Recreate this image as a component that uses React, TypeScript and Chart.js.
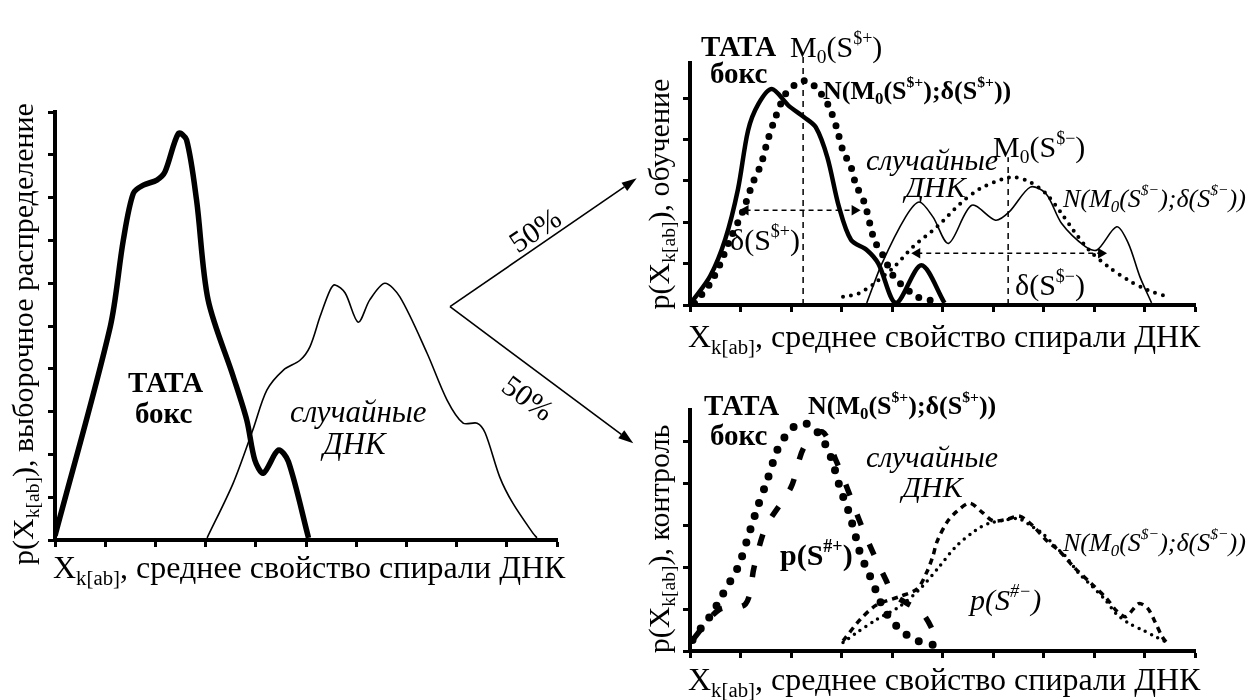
import React, { useEffect, useRef } from 'react';
import { Chart, registerables } from 'chart.js';
Chart.register(...registerables);

type P = [number, number];

// ---------- Left panel: sample distribution ----------
const leftTata: P[] = [
  [0, 0.1], [1.1, 4.98], [1.36, 7.0], [1.56, 8.1], [1.76, 8.29], [2.03, 8.41], [2.19, 8.6],
  [2.46, 9.5], [2.62, 9.35], [2.82, 7.94], [3.05, 5.61], [3.55, 3.82], [3.82, 2.8], [3.98, 1.87],
  [4.15, 1.56], [4.45, 2.1], [4.65, 1.83], [5.05, 0.05],
];
const leftRandom: P[] = [
  [3.03, 0.05], [3.55, 1.33], [3.94, 2.57], [4.22, 3.5], [4.55, 3.97], [4.88, 4.2], [5.08, 4.52],
  [5.28, 5.22], [5.48, 5.84], [5.58, 5.96], [5.78, 5.77], [6.04, 5.09], [6.27, 5.61], [6.57, 6.0],
  [6.87, 5.68], [7.41, 4.37], [7.81, 3.27], [8.13, 2.73], [8.41, 2.73], [8.57, 2.5], [8.86, 1.47],
  [9.12, 0.86], [9.52, 0.16], [9.6, 0.05],
];

// ---------- Upper right: training ----------
const trainTata: P[] = [
  [0.02, 0.05], [0.4, 0.7], [0.7, 1.6], [0.95, 2.8], [1.15, 4.22], [1.35, 4.85], [1.62, 5.22],
  [1.95, 4.82], [2.26, 4.54], [2.49, 4.3], [2.72, 3.57], [2.95, 2.37], [3.19, 1.57], [3.5, 1.33],
  [3.73, 1.0], [4.08, 0.05], [4.58, 0.96], [5.04, 0.05],
];
const trainRandom: P[] = [
  [3.5, 0.05], [3.8, 1.0], [4.27, 2.13], [4.54, 2.49], [4.81, 2.13], [5.12, 1.49], [5.58, 2.41],
  [6.05, 2.05], [6.32, 2.25], [6.74, 2.85], [7.05, 2.69], [7.36, 1.97], [7.83, 1.41], [8.06, 1.33],
  [8.45, 1.89], [8.68, 1.49], [8.91, 0.68], [9.14, 0.05],
];
const trainNormPlus: P[] = [
  [0.09, 0.04], [0.4, 0.52], [0.6, 1.0], [0.8, 1.61], [1.04, 2.25], [1.25, 2.97], [1.41, 3.41],
  [1.52, 3.9], [1.67, 4.46], [1.89, 5.1], [2.1, 5.34], [2.32, 5.42], [2.55, 5.18], [2.75, 4.8],
  [2.9, 4.3], [3.03, 3.73], [3.19, 3.33], [3.28, 2.93], [3.46, 2.45], [3.65, 1.57], [3.84, 1.16],
  [4.04, 0.68], [4.5, 0.2], [4.89, 0.08],
];
const trainNormMinus: P[] = [
  [3.03, 0.2], [3.34, 0.28], [3.65, 0.52], [4.04, 0.92], [4.42, 1.41], [4.89, 1.89], [5.35, 2.45],
  [5.74, 2.81], [6.2, 3.05], [6.43, 3.09], [6.74, 2.97], [7.05, 2.69], [7.36, 2.21], [7.59, 1.81],
  [7.9, 1.33], [8.29, 0.92], [8.68, 0.6], [9.06, 0.36], [9.45, 0.2],
];
const trainModePlus: P[] = [[2.24, 0], [2.24, 6.05]];
const trainModeMinus: P[] = [[6.3, 0], [6.3, 3.57]];
const trainDeltaPlus: P[] = [[1.1, 2.29], [3.26, 2.29]];
const trainDeltaMinus: P[] = [[4.5, 1.25], [8.14, 1.25]];

// ---------- Lower right: control ----------
const ctrlNormPlus: P[] = [
  [0.05, 0.26], [0.24, 0.58], [0.44, 0.9], [0.64, 1.33], [0.81, 1.69], [0.97, 2.05], [1.13, 2.64],
  [1.33, 3.4], [1.53, 4.07], [1.73, 4.79], [1.9, 5.14], [2.06, 5.34], [2.29, 5.42], [2.5, 5.25],
  [2.69, 4.9], [2.82, 4.51], [2.98, 3.85], [3.12, 3.4], [3.21, 3.04], [3.31, 2.6], [3.38, 2.29],
  [3.51, 1.93], [3.64, 1.57], [3.74, 1.25], [3.91, 0.86], [4.17, 0.5], [4.47, 0.26], [4.83, 0.14],
];
const ctrlPPlus: P[] = [
  [0.05, 0.26], [0.57, 0.98], [1.1, 1.12], [1.27, 2.0], [1.5, 2.95], [2.0, 3.9], [2.26, 4.86],
  [2.62, 5.22], [2.89, 4.54], [3.09, 3.95], [3.35, 3.12], [3.58, 2.46], [3.88, 1.69], [4.04, 1.33],
  [4.6, 0.9], [4.93, 0.19],
];
const ctrlNormMinus: P[] = [
  [3.03, 0.2], [3.28, 0.42], [3.68, 0.74], [4.14, 1.05], [4.53, 1.45], [4.93, 2.0], [5.26, 2.48],
  [5.66, 2.88], [5.92, 3.04], [6.25, 3.12], [6.51, 3.15], [6.78, 2.96], [6.98, 2.8], [7.24, 2.48],
  [7.44, 2.25], [7.7, 1.85], [7.97, 1.53], [8.23, 1.21], [8.43, 0.9], [8.69, 0.66], [8.96, 0.5],
  [9.22, 0.34], [9.42, 0.22],
];
const ctrlPMinus: P[] = [
  [3.03, 0.24], [3.37, 0.75], [3.7, 1.1], [4.16, 1.3], [4.5, 1.48], [4.69, 1.88], [4.81, 2.26],
  [4.89, 2.6], [5.09, 3.07], [5.29, 3.33], [5.54, 3.52], [5.78, 3.31], [6.0, 3.1], [6.28, 3.14],
  [6.53, 3.21], [6.79, 2.98], [7.07, 2.62], [7.3, 2.4], [7.6, 2.0], [7.95, 1.6], [8.25, 1.25],
  [8.45, 0.95], [8.63, 0.82], [8.89, 1.13], [9.06, 1.02], [9.19, 0.74], [9.35, 0.34], [9.45, 0.18],
];

const serif = '"Liberation Serif", "Times New Roman", "DejaVu Serif", serif';

const line = (pts: P[], o: any = {}) => ({
  data: pts.map(([x, y]) => ({ x, y })),
  borderColor: '#000',
  backgroundColor: '#000',
  borderWidth: 2,
  pointRadius: 0,
  pointHoverRadius: 0,
  tension: 0.3,
  fill: false,
  ...o,
});

const arrow = (pts: P[]) =>
  line(pts, {
    borderWidth: 1.5,
    borderDash: [5, 4],
    tension: 0,
    pointStyle: 'triangle',
    pointRadius: 6,
    pointBorderWidth: 0,
    pointBackgroundColor: '#000',
    pointRotation: (c: any) => (c.dataIndex === 0 ? -90 : 90),
  });

const axis = (max: number) => ({
  type: 'linear',
  min: 0,
  max,
  ticks: { display: false, stepSize: 1, includeBounds: false },
  grid: {
    display: true,
    drawOnChartArea: false,
    drawTicks: true,
    tickLength: 7,
    tickWidth: 3,
    tickColor: '#000',
  },
  border: { display: true, color: '#000', width: 4 },
  title: { display: false },
});

function LineChart(props: {
  left: number; top: number; width: number; height: number;
  pad: any; xMax: number; yMax: number; datasets: any[];
}) {
  const ref = useRef<HTMLCanvasElement>(null);
  useEffect(() => {
    const chart = new Chart(ref.current as HTMLCanvasElement, {
      type: 'line',
      data: { datasets: props.datasets },
      options: {
        animation: false,
        responsive: false,
        maintainAspectRatio: false,
        devicePixelRatio: 1,
        layout: { padding: props.pad },
        plugins: { legend: { display: false }, tooltip: { enabled: false } },
        scales: { x: axis(props.xMax), y: axis(props.yMax) } as any,
      } as any,
    });
    return () => chart.destroy();
  }, []);
  return (
    <canvas
      ref={ref}
      width={props.width}
      height={props.height}
      style={{ position: 'absolute', left: props.left, top: props.top, width: props.width, height: props.height }}
    />
  );
}

const Sub = ({ children }: any) => (
  <span style={{ fontSize: '0.65em', position: 'relative', top: '0.32em' }}>{children}</span>
);
const Sup = ({ children }: any) => (
  <span style={{ fontSize: '0.6em', position: 'relative', top: '-0.75em' }}>{children}</span>
);

function T(props: { x: number; y: number; size: number; bold?: boolean; italic?: boolean; children: any }) {
  return (
    <div
      style={{
        position: 'absolute',
        left: props.x,
        top: props.y,
        fontSize: props.size,
        lineHeight: 1,
        fontFamily: serif,
        fontWeight: props.bold ? 'bold' : 'normal',
        fontStyle: props.italic ? 'italic' : 'normal',
        whiteSpace: 'nowrap',
        color: '#000',
      }}
    >
      {props.children}
    </div>
  );
}

function R(props: { cx: number; cy: number; size: number; angle: number; children: any }) {
  return (
    <div
      style={{
        position: 'absolute',
        left: props.cx - 300,
        top: props.cy - props.size / 2,
        width: 600,
        height: props.size,
        fontSize: props.size,
        lineHeight: 1,
        fontFamily: serif,
        textAlign: 'center',
        whiteSpace: 'nowrap',
        transform: `rotate(${props.angle}deg)`,
        transformOrigin: '50% 50%',
        color: '#000',
      }}
    >
      {props.children}
    </div>
  );
}

const XTitle = () => (
  <>
    X<Sub>k[ab]</Sub>, среднее свойство спирали ДНК
  </>
);

function Arrow({ x1, y1, x2, y2 }: { x1: number; y1: number; x2: number; y2: number }) {
  const a = Math.atan2(y2 - y1, x2 - x1);
  const L = 15, W = 5;
  const bx = x2 - L * Math.cos(a), by = y2 - L * Math.sin(a);
  const px = -Math.sin(a) * W, py = Math.cos(a) * W;
  return (
    <g>
      <line x1={x1} y1={y1} x2={bx} y2={by} stroke="#000" strokeWidth={1.6} />
      <polygon points={`${x2},${y2} ${bx + px},${by + py} ${bx - px},${by - py}`} fill="#000" />
    </g>
  );
}

export default function App() {
  const leftSets = [
    line(leftRandom, { borderWidth: 1.6 }),
    line(leftTata, { borderWidth: 5.5 }),
  ];
  const trainSets = [
    line(trainRandom, { borderWidth: 1.6 }),
    line(trainNormMinus, { borderWidth: 4, borderDash: [0, 8], borderCapStyle: 'round' }),
    line(trainNormPlus, { borderWidth: 7, borderDash: [0, 11.5], borderCapStyle: 'round' }),
    line(trainTata, { borderWidth: 4.5 }),
    line(trainModePlus, { borderWidth: 1.5, borderDash: [6, 5], tension: 0, clip: false }),
    line(trainModeMinus, { borderWidth: 1.5, borderDash: [6, 5], tension: 0, clip: false }),
    arrow(trainDeltaPlus),
    arrow(trainDeltaMinus),
  ];
  const ctrlSets = [
    line(ctrlNormMinus, { borderWidth: 3.5, borderDash: [0, 7], borderCapStyle: 'round' }),
    line(ctrlPMinus, { borderWidth: 3.5, borderDash: [6, 5] }),
    line(ctrlNormPlus, { borderWidth: 8, borderDash: [0, 14], borderCapStyle: 'round' }),
    line(ctrlPPlus, { borderWidth: 5.5, borderDash: [12, 20] }),
  ];

  return (
    <div style={{ position: 'absolute', left: 0, top: 0, width: 1249, height: 700, background: '#fff', overflow: 'hidden' }}>
      <LineChart left={48} top={100} width={515} height={447} pad={{ top: 12, right: 6, left: 0, bottom: 0 }} xMax={10} yMax={10} datasets={leftSets} />
      <LineChart left={683} top={20} width={518} height={292} pad={{ top: 43, right: 6, left: 0, bottom: 0 }} xMax={10} yMax={5.85} datasets={trainSets} />
      <LineChart left={683} top={398} width={518} height={260} pad={{ top: 12, right: 6, left: 0, bottom: 0 }} xMax={10} yMax={5.74} datasets={ctrlSets} />

      <svg width={1249} height={700} style={{ position: 'absolute', left: 0, top: 0, pointerEvents: 'none' }}>
        <Arrow x1={450} y1={306.7} x2={636.7} y2={178.3} />
        <Arrow x1={450} y1={306.7} x2={633.3} y2={443.3} />
      </svg>

      {/* Left panel texts */}
      <T x={128} y={368} size={29} bold>ТАТА</T>
      <T x={135} y={399} size={29} bold>бокс</T>
      <T x={290} y={396} size={31} italic>случайные</T>
      <T x={323} y={428} size={31} italic>ДНК</T>
      <T x={53} y={551} size={32}><XTitle /></T>
      <R cx={22.5} cy={333.5} size={30} angle={-90}>p(X<Sub>k[ab]</Sub>), выборочное распределение</R>

      {/* split arrows */}
      <R cx={535} cy={230} size={30} angle={-34}>50%</R>
      <R cx={528} cy={398} size={30} angle={36}>50%</R>

      {/* Upper right texts */}
      <T x={701} y={32} size={29} bold>ТАТА</T>
      <T x={710} y={59} size={29} bold>бокс</T>
      <T x={790} y={32} size={30}>M<Sub>0</Sub>(S<Sup>$+</Sup>)</T>
      <T x={823} y={78} size={26} bold>N(M<Sub>0</Sub>(S<Sup>$+</Sup>);δ(S<Sup>$+</Sup>))</T>
      <T x={866} y={145} size={30} italic>случайные</T>
      <T x={905} y={172} size={30} italic>ДНК</T>
      <T x={993} y={132} size={30}>M<Sub>0</Sub>(S<Sup>$−</Sup>)</T>
      <T x={1063} y={186} size={26} italic>N(M<Sub>0</Sub>(S<Sup>$−</Sup>);δ(S<Sup>$−</Sup>))</T>
      <T x={730} y={225} size={30}>δ(S<Sup>$+</Sup>)</T>
      <T x={1015} y={270} size={30}>δ(S<Sup>$−</Sup>)</T>
      <T x={688} y={320} size={32}><XTitle /></T>
      <R cx={658.5} cy={193.5} size={30} angle={-90}>p(X<Sub>k[ab]</Sub>), обучение</R>

      {/* Lower right texts */}
      <T x={704} y={391} size={29} bold>ТАТА</T>
      <T x={710} y={421} size={29} bold>бокс</T>
      <T x={808} y={393} size={26} bold>N(M<Sub>0</Sub>(S<Sup>$+</Sup>);δ(S<Sup>$+</Sup>))</T>
      <T x={866} y={442} size={30} italic>случайные</T>
      <T x={902} y={472} size={30} italic>ДНК</T>
      <T x={780} y={540} size={30} bold>p(S<Sup>#+</Sup>)</T>
      <T x={970} y={585} size={30} italic>p(S<Sup>#−</Sup>)</T>
      <T x={1063} y={530} size={26} italic>N(M<Sub>0</Sub>(S<Sup>$−</Sup>);δ(S<Sup>$−</Sup>))</T>
      <T x={688} y={663} size={32}><XTitle /></T>
      <R cx={658.5} cy={538.5} size={30} angle={-90}>p(X<Sub>k[ab]</Sub>), контроль</R>
    </div>
  );
}
